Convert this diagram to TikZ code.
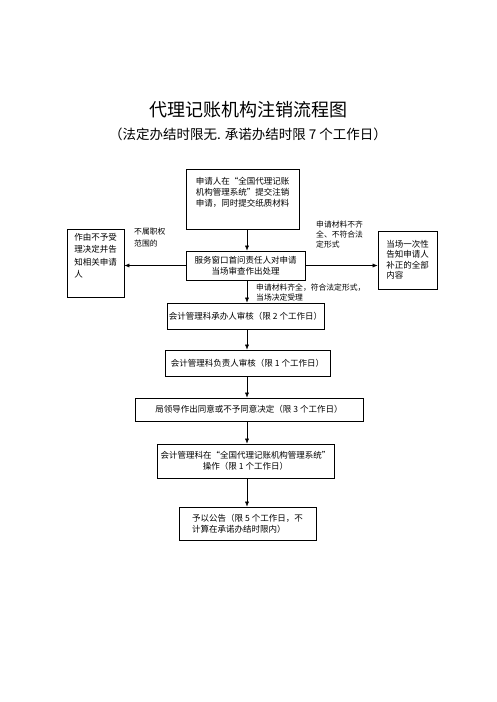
\documentclass[tikz,border=0pt]{standalone}
\usepackage{fontspec}
\setmainfont{Noto Sans CJK SC}
\usetikzlibrary{arrows.meta}

\tikzset{
  box/.style={draw, line width=0.8pt, inner xsep=2pt, font=\fontsize{8.5}{11}\selectfont},
  note/.style={font=\fontsize{7.8}{10}\selectfont, align=left, inner sep=0pt, anchor=north west},
}

\begin{document}
\begin{tikzpicture}[x=1pt, y=-1pt, >={Latex[length=5pt,width=4pt]}]
\useasboundingbox (0,0) rectangle (496,702);
% title
\node[font=\fontsize{18}{20}\selectfont] (title) at (248,110) {代理记账机构注销流程图};
\node[font=\fontsize{13.5}{15}\selectfont] (subtitle) at (248,134) {（法定办结时限无. 承诺办结时限 7 个工作日）};

% main column
\coordinate (ax) at (247,0);
\node[box, minimum width=113pt, minimum height=60pt, align=left] (apply) at (242.5,199)
  {申请人在“全国代理记账\\机构管理系统”提交注销\\申请，同时提交纸质材料\\ \strut};
\node[box, minimum width=119pt, minimum height=29pt, align=center] (window) at (245.5,265.5)
  {服务窗口首问责任人对申请\\当场审查作出处理};
\node[box, minimum width=157pt, minimum height=26pt] (clerk) at (245.5,316)
  {会计管理科承办人审核（限 2 个工作日）};
\node[box, minimum width=165pt, minimum height=26pt] (head) at (247.5,363)
  {会计管理科负责人审核（限 1 个工作日）};
\node[box, minimum width=228pt, minimum height=23pt] (bureau) at (249,409.5)
  {局领导作出同意或不予同意决定（限 3 个工作日）};
\node[box, minimum width=177pt, minimum height=34pt, align=center] (system) at (245.5,461)
  {会计管理科在“全国代理记账机构管理系统”\\操作（限 1 个工作日）};
\node[box, minimum width=137pt, minimum height=33pt, align=left] (notice) at (247.5,523.5)
  {予以公告（限 5 个工作日，不\\计算在承诺办结时限内）};

% side boxes
\node[box, minimum width=57pt, minimum height=67pt, align=left, font=\fontsize{8.5}{12.5}\selectfont] (reject) at (95.5,263.5)
  {作由不予受\\理决定并告\\知相关申请\\人\\ \strut};
\node[box, minimum width=59pt, minimum height=58pt, align=left, font=\fontsize{8.5}{10.5}\selectfont] (amend) at (407.5,260)
  {当场一次性\\告知申请人\\补正的全部\\内容};

% labels
\node[note, font=\fontsize{7.8}{12}\selectfont] (notours) at (134,228) {不属职权\\范围的};
\node[note] (incomplete) at (316,221) {申请材料不齐\\全、不符合法\\定形式};
\node[note] (accepted) at (256,283.5) {申请材料齐全，符合法定形式，\\当场决定受理};

% arrows
\draw[->] (apply.south -| ax) -- (window.north -| ax);
\draw[->] (window.south -| ax) -- (clerk.north -| ax);
\draw[->] (clerk.south -| ax) -- (head.north -| ax);
\draw[->] (head.south -| ax) -- (bureau.north -| ax);
\draw[->] (bureau.south -| ax) -- (system.north -| ax);
\draw[->] (system.south -| ax) -- (notice.north -| ax);
\draw[->] (window.west) -- (window.west -| reject.east);
\draw[->] (window.east) -- (window.east -| amend.west);
\end{tikzpicture}
\end{document}
